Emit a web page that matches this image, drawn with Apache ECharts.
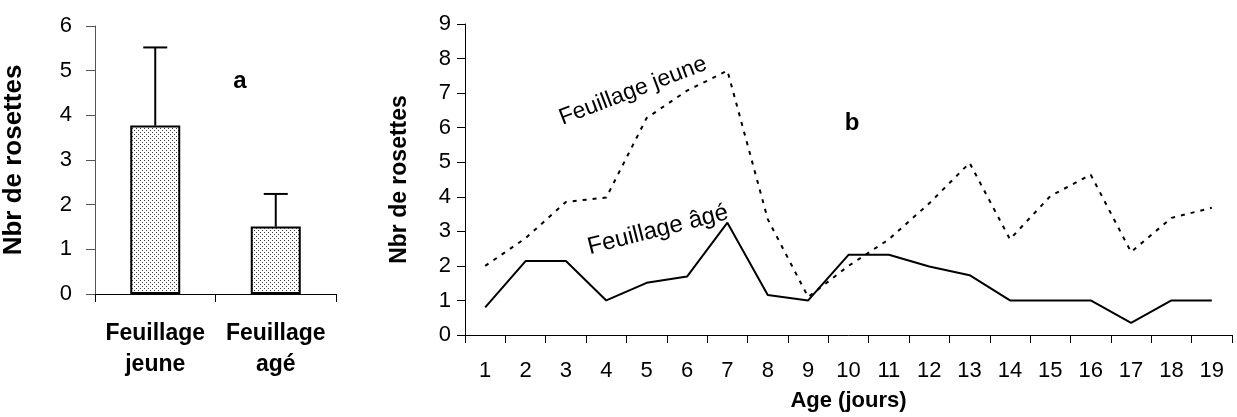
<!DOCTYPE html>
<html>
<head>
<meta charset="utf-8">
<script src="https://cdn.jsdelivr.net/npm/echarts@6/dist/echarts.min.js"></script>
<style>
  html, body { margin: 0; padding: 0; background: #ffffff; }
  #chart { width: 1237px; height: 417px; }
</style>
</head>
<body>
<div id="chart"></div>
<script>
// ---- Data ----
const barCategories = ['Feuillage\njeune', 'Feuillage\nagé'];
const barMeans = [3.77, 1.51];
const barErrors = [1.75, 0.73];
const barTicks = [0, 1, 2, 3, 4, 5, 6];

const ageDays = ['1','2','3','4','5','6','7','8','9','10','11','12','13','14','15','16','17','18','19'];
const jeuneSeries = [2.0, 2.8, 3.85, 3.98, 6.28, 7.07, 7.65, 3.35, 1.1, 2.0, 2.77, 3.81, 4.98, 2.77, 4.02, 4.64, 2.4, 3.39, 3.68];
const ageSeries = [0.8, 2.14, 2.14, 1.0, 1.51, 1.69, 3.25, 1.16, 1.0, 2.32, 2.32, 1.98, 1.73, 1.0, 1.0, 1.0, 0.35, 1.0, 1.0];
const lineTicks = [0, 1, 2, 3, 4, 5, 6, 7, 8, 9];

// ---- Dotted fill pattern ----
const pat = document.createElement('canvas');
pat.width = 4; pat.height = 4;
const pctx = pat.getContext('2d');
pctx.fillStyle = '#ffffff';
pctx.fillRect(0, 0, 4, 4);
pctx.fillStyle = '#404040';
pctx.fillRect(0, 0, 1, 1);
pctx.fillRect(2, 2, 1, 1);

const FONT = 'Liberation Sans, Arial, Helvetica, sans-serif';
const chart = echarts.init(document.getElementById('chart'), null, { renderer: 'canvas' });

const option = {
  backgroundColor: '#ffffff',
  animation: false,
  textStyle: { fontFamily: FONT, color: '#000' },
  grid: [
    { left: 92, top: 26, width: 244, height: 268 },
    { left: 465, top: 24, width: 767, height: 312 }
  ],
  xAxis: [
    {
      gridIndex: 0, type: 'category', data: barCategories,
      axisLine: { show: true, lineStyle: { color: '#000', width: 1 } },
      axisTick: { show: true, length: 8, lineStyle: { color: '#000' } },
      axisLabel: { interval: 0, fontFamily: FONT, fontSize: 23, fontWeight: 'bold', color: '#000', lineHeight: 31, margin: 24 },
      splitLine: { show: false }
    },
    {
      gridIndex: 1, type: 'category', data: ageDays,
      axisLine: { show: true, lineStyle: { color: '#000', width: 1 } },
      axisTick: { show: true, length: 8, lineStyle: { color: '#000' } },
      axisLabel: { interval: 0, fontFamily: FONT, fontSize: 22, color: '#000', margin: 25 },
      name: 'Age (jours)', nameLocation: 'middle', nameGap: 55,
      nameTextStyle: { fontFamily: FONT, fontSize: 22, fontWeight: 'bold', color: '#000' },
      splitLine: { show: false }
    }
  ],
  yAxis: [
    {
      gridIndex: 0, type: 'value', min: barTicks[0], max: barTicks[barTicks.length - 1], interval: 1,
      axisLine: { show: true, lineStyle: { color: '#555', width: 1 } },
      axisTick: { show: true, length: 9, lineStyle: { color: '#555' } },
      axisLabel: { fontFamily: FONT, fontSize: 22, color: '#000', margin: 23 },
      splitLine: { show: false },
      name: 'Nbr de rosettes', nameLocation: 'middle', nameGap: 68,
      nameTextStyle: { fontFamily: FONT, fontSize: 26, fontWeight: 'bold', color: '#000' }
    },
    {
      gridIndex: 1, type: 'value', min: lineTicks[0], max: lineTicks[lineTicks.length - 1], interval: 1,
      axisLine: { show: true, lineStyle: { color: '#000', width: 1 } },
      axisTick: { show: true, length: 8, lineStyle: { color: '#000' } },
      axisLabel: { fontFamily: FONT, fontSize: 22, color: '#000', margin: 14 },
      splitLine: { show: false },
      name: 'Nbr de rosettes', nameLocation: 'middle', nameGap: 54,
      nameTextStyle: { fontFamily: FONT, fontSize: 23, fontWeight: 'bold', color: '#000' }
    }
  ],
  series: [
    {
      type: 'bar', xAxisIndex: 0, yAxisIndex: 0,
      data: barMeans, barWidth: 50,
      itemStyle: { color: { image: pat, repeat: 'repeat' }, borderColor: '#000', borderWidth: 2 },
      z: 2
    },
    {
      type: 'custom', xAxisIndex: 0, yAxisIndex: 0,
      data: barMeans.map((m, i) => [i, m, m + barErrors[i]]),
      encode: { x: 0, y: [1, 2] },
      renderItem: function (params, api) {
        const i = api.value(0);
        const p0 = api.coord([i, api.value(1)]);
        const p1 = api.coord([i, api.value(2)]);
        const hw = 12;
        return {
          type: 'group',
          children: [
            { type: 'line', shape: { x1: p0[0], y1: p0[1], x2: p1[0], y2: p1[1] }, style: { stroke: '#000', lineWidth: 2 } },
            { type: 'line', shape: { x1: p1[0] - hw, y1: p1[1], x2: p1[0] + hw, y2: p1[1] }, style: { stroke: '#000', lineWidth: 2 } }
          ]
        };
      },
      z: 3
    },
    {
      name: 'Feuillage jeune', type: 'line', xAxisIndex: 1, yAxisIndex: 1,
      data: jeuneSeries, showSymbol: false, symbol: 'none',
      lineStyle: { color: '#000', width: 2, type: [4, 6] }
    },
    {
      name: 'Feuillage âgé', type: 'line', xAxisIndex: 1, yAxisIndex: 1,
      data: ageSeries, showSymbol: false, symbol: 'none',
      lineStyle: { color: '#000', width: 2 }
    }
  ],
  graphic: [
    { type: 'text', x: 240, y: 81, style: { text: 'a', x: 0, y: 0, align: 'center', verticalAlign: 'middle', textAlign: 'center', textVerticalAlign: 'middle', font: 'bold 24px ' + FONT, fill: '#000' } },
    { type: 'text', x: 852, y: 123, style: { text: 'b', x: 0, y: 0, align: 'center', verticalAlign: 'middle', textAlign: 'center', textVerticalAlign: 'middle', font: 'bold 24px ' + FONT, fill: '#000' } },
    { type: 'text', x: 633, y: 91, rotation: 21 * Math.PI / 180, style: { text: 'Feuillage jeune', x: 0, y: 0, align: 'center', verticalAlign: 'middle', textAlign: 'center', textVerticalAlign: 'middle', font: '23px ' + FONT, fill: '#000' } },
    { type: 'text', x: 658, y: 230, rotation: 14.3 * Math.PI / 180, style: { text: 'Feuillage âgé', x: 0, y: 0, align: 'center', verticalAlign: 'middle', textAlign: 'center', textVerticalAlign: 'middle', font: '24px ' + FONT, fill: '#000' } }
  ]
};

chart.setOption(option);
</script>
</body>
</html>
